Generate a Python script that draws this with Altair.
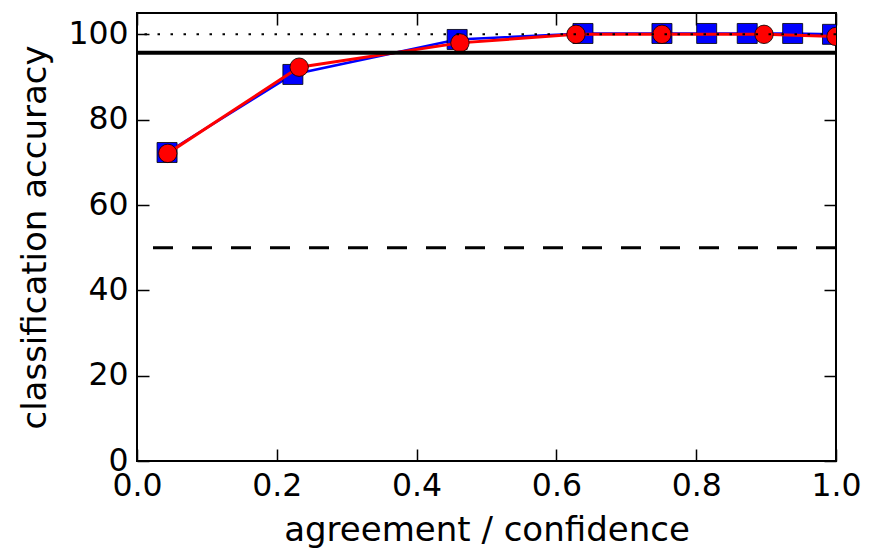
import altair as alt
import pandas as pd

# ---- data ----
blue_x = [0.043, 0.223, 0.458, 0.638, 0.751, 0.815, 0.873, 0.938, 0.995]
blue_y = [72.3, 90.6, 98.8, 100.2, 100.2, 100.2, 100.2, 100.2, 100.0]
red_x = [0.044, 0.232, 0.462, 0.628, 0.751, 0.897, 1.0]
red_y = [72.1, 92.3, 98.0, 100.0, 100.0, 100.0, 99.5]

x_ticks = [0.0, 0.2, 0.4, 0.6, 0.8, 1.0]
y_ticks = [0, 20, 40, 60, 80, 100]
dotted_level = [100]
solid_level = [95.7]
dashed_level = [50]

W, H = 699, 448
FONT = "DejaVu Sans"

blue = pd.DataFrame({"x": blue_x, "y": blue_y})
red = pd.DataFrame({"x": red_x, "y": red_y})

xs = alt.Scale(domain=[0, 1], nice=False, zero=False)
ys = alt.Scale(domain=[0, 105], nice=False, zero=False)

x_axis = alt.Axis(values=x_ticks, format=".1f", title="agreement / confidence",
                  grid=True, gridColor="black", gridOpacity=1, gridWidth=1.5,
                  gridDash=[12, H - 24, 12, 3000], ticks=False, domain=False,
                  labelFlush=False, labelOverlap=False, labelPadding=9,
                  titlePadding=12)
y_axis = alt.Axis(values=y_ticks, format="d", title="classification accuracy",
                  grid=True, gridColor="black", gridOpacity=1, gridWidth=1.5,
                  gridDash=[12, W - 24, 12, 3000], ticks=False, domain=False,
                  labelFlush=False, labelOverlap=False, labelPadding=9,
                  titlePadding=15)

X = alt.X("x:Q", scale=xs, axis=x_axis)
Y = alt.Y("y:Q", scale=ys, axis=y_axis)

blue_line = alt.Chart(blue).mark_line(color="#0000ff", strokeWidth=2.5, clip=True).encode(x=X, y=Y)
blue_pts = alt.Chart(blue).mark_point(shape="square", filled=True, fill="#0000ff",
                                      stroke="black", strokeWidth=0.8, size=400,
                                      opacity=1, clip=True).encode(x=X, y=Y)
red_line = alt.Chart(red).mark_line(color="#ff0000", strokeWidth=3, clip=True).encode(x=X, y=Y)
red_pts = alt.Chart(red).mark_point(shape="circle", filled=True, fill="#ff0000",
                                    stroke="black", strokeWidth=0.8, size=340,
                                    opacity=1, clip=True).encode(x=X, y=Y)

dotted = alt.Chart(pd.DataFrame({"y": dotted_level})).mark_rule(
    color="black", strokeWidth=2, strokeDash=[2.5, 10.5]).encode(y=Y)
solid = alt.Chart(pd.DataFrame({"y": solid_level})).mark_rule(
    color="black", strokeWidth=4).encode(y=Y)
dashed = alt.Chart(pd.DataFrame({"y": dashed_level})).mark_rule(
    color="black", strokeWidth=3, strokeDash=[20, 19]).encode(y=Y)

chart = alt.layer(blue_line, blue_pts, red_line, red_pts, dotted, solid, dashed).properties(
    width=W, height=H,
    autosize=alt.AutoSizeParams(type="none"),
    padding={"left": 129, "top": 5, "right": 26, "bottom": 87},
).configure_view(
    stroke="black", strokeWidth=2
).configure_axis(
    labelFont=FONT, titleFont=FONT, labelFontSize=31.5, titleFontSize=34,
    labelColor="black", titleColor="black", titleFontWeight="normal"
)

chart.save("out.html", embed_options={"renderer": "svg", "actions": False})
